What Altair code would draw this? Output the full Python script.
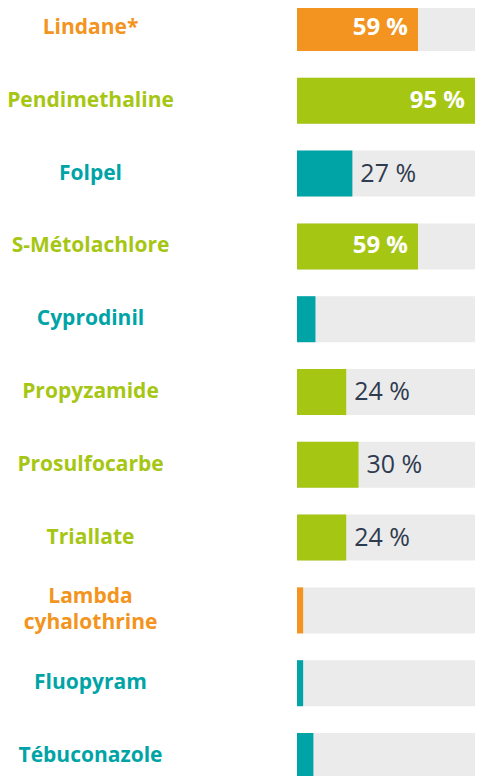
import altair as alt
import pandas as pd

categories = ["Lindane*", "Pendimethaline", "Folpel", "S-Métolachlore", "Cyprodinil",
              "Propyzamide", "Prosulfocarbe", "Triallate", "Lambda cyhalothrine",
              "Fluopyram", "Tébuconazole"]
values = [59, 95, 27, 59, 9, 24, 30, 24, 3, 3, 8]
groups = ["Insecticide", "Herbicide", "Fongicide", "Herbicide", "Fongicide",
          "Herbicide", "Herbicide", "Herbicide", "Insecticide", "Fongicide", "Fongicide"]
value_labels = ["59 %", "95 %", "27 %", "59 %", "", "24 %", "30 %", "24 %", "", "", ""]

group_names = ["Insecticide", "Herbicide", "Fongicide"]
group_colors = ["#F39420", "#A6C614", "#00A4A7"]

df = pd.DataFrame({
    "cat": categories,
    "value": values,
    "group": groups,
    "label": value_labels,
    "full": [100] * len(categories),
})
df["inside"] = df["value"] >= 50

def q(s):
    return "'" + s.replace("'", "\\'") + "'"

def member_test(items, var="datum.value"):
    return " || ".join(f"{var} === {q(s)}" for s in items)

insect = [c for c, g in zip(categories, groups) if g == "Insecticide"]
herb = [c for c, g in zip(categories, groups) if g == "Herbicide"]
label_color = {
    "condition": [
        {"test": member_test(insect), "value": group_colors[0]},
        {"test": member_test(herb), "value": group_colors[1]},
    ],
    "value": group_colors[2],
}
multi = [c for c in categories if " " in c]
label_expr = "datum.label"
for c in multi:
    parts = ",".join(q(p) for p in c.split(" "))
    label_expr = f"datum.label === {q(c)} ? [{parts}] : ({label_expr})"

line_height = 26
label_offset = {
    "condition": {"test": member_test(multi), "value": -line_height / 2},
    "value": 0,
}

xscale = alt.Scale(domain=[0, 86.8], clamp=True)
yscale = alt.Scale(domain=categories, paddingInner=0.368, paddingOuter=0)

yaxis = alt.Axis(ticks=False, domain=False, grid=False, labelPadding=207,
                 labelAlign="center", labelBaseline="middle",
                 labelFont="Open Sans", labelFontWeight="bold", labelFontSize=21,
                 labelColor=label_color, labelLimit=300, labelOffset=label_offset,
                 labelLineHeight=line_height, labelExpr=label_expr)

base = alt.Chart(df)

bg = base.mark_bar(color="#EBEBEB").encode(
    x=alt.X("full:Q", scale=xscale, axis=None),
    y=alt.Y("cat:N", scale=yscale, sort=categories, title=None, axis=yaxis),
)

bars = base.mark_bar().encode(
    x=alt.X("value:Q", scale=xscale, axis=None),
    y=alt.Y("cat:N", scale=yscale, sort=categories, title=None, axis=yaxis),
    color=alt.Color("group:N", scale=alt.Scale(domain=group_names, range=group_colors), legend=None),
)

txt_in = base.mark_text(align="right", baseline="middle", dx=-10, font="Open Sans",
                        fontWeight="bold", fontSize=24, color="white").encode(
    x=alt.X("value:Q", scale=xscale, axis=None),
    y=alt.Y("cat:N", scale=yscale, sort=categories, title=None, axis=yaxis),
    text="label:N",
).transform_filter("datum.inside && datum.label != ''")

txt_out = base.mark_text(align="left", baseline="middle", dx=8, font="Open Sans",
                         fontSize=25, color="#2F3B4F").encode(
    x=alt.X("value:Q", scale=xscale, axis=None),
    y=alt.Y("cat:N", scale=yscale, sort=categories, title=None, axis=yaxis),
    text="label:N",
).transform_filter("!datum.inside && datum.label != ''")

chart = alt.layer(bg, bars, txt_in, txt_out).properties(
    width=178, height=774,
    autosize=alt.AutoSizeParams(type="none"),
    padding={"left": 289, "top": -3, "right": 0, "bottom": 0},
).configure_view(stroke=None)

chart.save("out.html", embed_options={"renderer": "svg", "actions": False})
